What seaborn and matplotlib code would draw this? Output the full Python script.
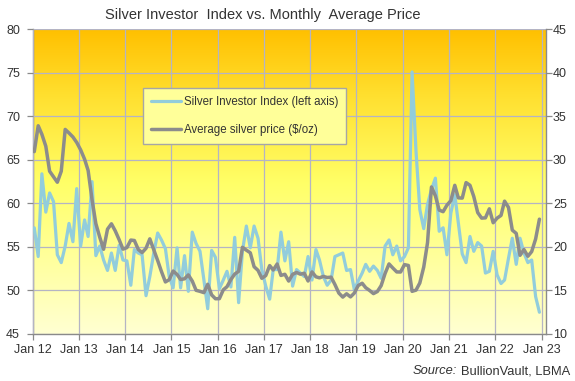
import pandas as pd
import numpy as np
import matplotlib
matplotlib.use("Agg")
import matplotlib.pyplot as plt
from matplotlib.colors import LinearSegmentedColormap
import seaborn as sns

# Silver Investor Index (left axis), monthly Jan 2012 - Dec 2022
investor_index = [
    57.2, 53.9, 63.4, 59.0, 61.2, 60.2, 54.1, 53.2, 55.1, 57.7, 55.6, 61.7,  # 2012
    55.1, 58.1, 56.2, 62.5, 54.0, 55.1, 53.5, 52.3, 54.3, 52.3, 55.2, 53.5,  # 2013
    53.4, 50.6, 54.7, 54.3, 54.1, 49.4, 51.6, 54.3, 56.6, 55.8, 54.8, 51.6,  # 2014
    50.3, 54.9, 50.3, 54.0, 49.9, 56.7, 55.4, 54.5, 51.2, 47.9, 54.6, 53.8,  # 2015
    50.2, 51.2, 52.2, 50.4, 56.1, 48.6, 54.5, 57.4, 54.9, 57.4, 56.0, 52.4,  # 2016
    50.5, 49.0, 52.4, 52.4, 56.7, 53.4, 55.6, 50.5, 52.4, 52.0, 51.6, 53.9,  # 2017
    51.2, 54.7, 53.5, 51.6, 50.6, 51.2, 53.9, 54.1, 54.3, 52.3, 52.4, 50.1,  # 2018
    51.1, 52.0, 53.0, 52.2, 52.8, 52.3, 51.4, 55.1, 55.8, 54.1, 55.1, 53.4,  # 2019
    53.9, 54.9, 75.1, 66.0, 59.3, 57.1, 59.9, 61.6, 62.9, 56.8, 57.2, 54.1,  # 2020
    58.9, 61.0, 57.8, 54.2, 53.2, 56.2, 54.5, 55.5, 55.1, 52.0, 52.2, 54.5,  # 2021
    51.8, 50.8, 51.2, 53.7, 56.0, 53.0, 56.0, 54.3, 53.2, 53.5, 49.3, 47.5,  # 2022
]

# Average silver price $/oz (right axis)
silver_price = [
    30.95, 33.92, 32.94, 31.57, 28.70, 28.06, 27.43, 28.70, 33.50, 33.09, 32.63, 32.00,
    31.15, 30.08, 28.79, 25.42, 22.68, 21.11, 19.73, 22.04, 22.66, 21.85, 20.83, 19.75,
    19.92, 20.79, 20.74, 19.71, 19.35, 19.85, 20.93, 19.70, 18.44, 17.17, 15.98, 16.24,
    17.23, 16.84, 16.26, 16.34, 16.79, 16.08, 15.02, 14.90, 14.75, 15.71, 14.49, 14.05,
    14.06, 15.08, 15.43, 16.26, 16.88, 17.20, 19.96, 19.63, 19.33, 17.73, 17.31, 16.40,
    16.71, 17.86, 17.35, 18.04, 16.73, 16.86, 16.08, 16.85, 17.07, 16.87, 16.98, 16.09,
    17.13, 16.57, 16.45, 16.62, 16.49, 16.53, 15.68, 14.70, 14.24, 14.62, 14.26, 14.70,
    15.57, 15.83, 15.32, 15.00, 14.64, 14.88, 15.56, 16.96, 18.05, 17.58, 17.13, 17.12,
    17.97, 17.87, 14.90, 15.04, 15.86, 17.69, 20.50, 26.89, 25.87, 24.23, 24.05, 24.80,
    25.32, 27.08, 25.64, 25.61, 27.39, 27.08, 25.79, 23.95, 23.31, 23.34, 24.38, 22.78,
    23.31, 23.62, 25.26, 24.53, 21.93, 21.56, 19.04, 19.70, 18.93, 19.47, 20.91, 23.19,
]

months = pd.date_range("2012-01-01", periods=len(silver_price), freq="MS") + pd.Timedelta(days=14)
tick_years = list(range(2012, 2024))
tick_labels = [f"Jan {y % 100:02d}" for y in tick_years]

df = pd.DataFrame({"month": months, "index": investor_index, "price": silver_price})

sns.set_style("white")
plt.rcParams["font.family"] = ["Liberation Sans", "DejaVu Sans"]

text_col = "#333333"
axis_col = "#8a8a8a"
grid_col = "#b4b4c4"

fig = plt.figure(figsize=(5.75, 3.81), dpi=100)
ax = fig.add_axes([32.5 / 575, 1 - 334 / 381, (546 - 32.5) / 575, (334 - 29.3) / 381])

# background gradient
cmap = LinearSegmentedColormap.from_list(
    "bg", [(0, "#ffffd2"), (0.5, "#ffff66"), (0.78, "#ffe030"), (1, "#ffc000")])
grad = np.linspace(0, 1, 256).reshape(-1, 1)
ax.imshow(grad, extent=[0, 1, 0, 1], transform=ax.transAxes, aspect="auto",
          cmap=cmap, origin="lower", zorder=0)

sns.lineplot(data=df, x="month", y="index", ax=ax, color="#92cddc", linewidth=2.3,
             legend=False, label="Silver Investor Index (left axis)", zorder=3)

ax2 = ax.twinx()
sns.lineplot(data=df, x="month", y="price", ax=ax2, color="#8c8c8c", linewidth=2.5,
             legend=False, label="Average silver price (\\$/oz)", zorder=3)

ax.set_xlim(pd.Timestamp("2012-01-01"), pd.Timestamp("2023-02-05"))
ax.set_ylim(45, 80)
ax2.set_ylim(10, 45)
ax.set_yticks(range(45, 81, 5))
ax2.set_yticks(range(10, 46, 5))
ax.set_xticks([pd.Timestamp(f"{y}-01-01") for y in tick_years])
ax.set_xticklabels(tick_labels)
ax.set_xlabel("")
ax.set_ylabel("")
ax2.set_ylabel("")

ax.grid(True, color=grid_col, linewidth=0.9)
ax.set_axisbelow(False)
for gl in ax.get_xgridlines() + ax.get_ygridlines():
    gl.set_zorder(1)

for a in (ax, ax2):
    for side in ("top", "left", "bottom", "right"):
        a.spines[side].set_visible(False)
ax.spines["left"].set_visible(True)
ax.spines["bottom"].set_visible(True)
ax2.spines["right"].set_visible(True)
for sp in (ax.spines["left"], ax.spines["bottom"], ax2.spines["right"]):
    sp.set_color(axis_col)
    sp.set_linewidth(1.0)

ax.tick_params(axis="both", direction="out", length=4, width=0.9, color=axis_col,
               labelcolor=text_col, labelsize=9, left=True, bottom=True)
ax.tick_params(axis="y", pad=5)
ax.tick_params(axis="x", pad=3)
ax2.tick_params(axis="y", direction="out", length=4, width=0.9, color=axis_col,
                labelcolor=text_col, labelsize=9, right=True, pad=1)

handles = ax.get_lines()[:1] + ax2.get_lines()[:1]
leg = ax2.legend(handles, [h.get_label() for h in handles],
                 loc="upper left", bbox_to_anchor=(143.3 / 575, 1 - 88.3 / 381),
                 bbox_transform=fig.transFigure, frameon=True, fancybox=False,
                 facecolor="#ffff99", edgecolor="#a6a6a6", framealpha=1,
                 fontsize=8.3, handlelength=2.6, handletextpad=0.2,
                 labelspacing=1.35, borderpad=0.7, borderaxespad=0)
leg.get_frame().set_linewidth(1.0)
for t in leg.get_texts():
    t.set_color(text_col)

fig.text(263 / 575, 1 - 15 / 381, "Silver Investor  Index vs. Monthly  Average Price",
         ha="center", va="center", fontsize=10.5, color=text_col)

src = fig.text(570 / 575, 1 - 371 / 381, "BullionVault, LBMA", ha="right", va="center",
               fontsize=9.3, color=text_col)
fig.canvas.draw()
bb = src.get_window_extent()
fig.text((bb.x0 - 4) / fig.bbox.width, 1 - 371 / 381, "Source:", ha="right", va="center",
         fontsize=9.3, color=text_col, style="italic")

fig.savefig("out.png", dpi=100)
